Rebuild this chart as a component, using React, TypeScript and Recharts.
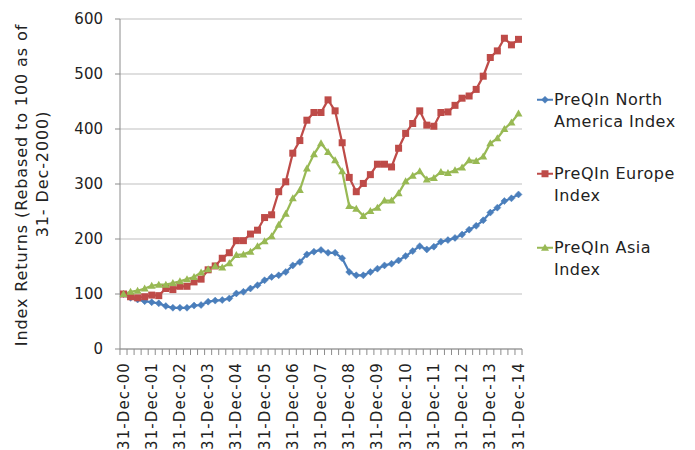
import React from 'react';
import { LineChart, Line, XAxis, YAxis, CartesianGrid } from 'recharts';

const categories = [
  '31-Dec-00', '31-Mar-01', '30-Jun-01', '30-Sep-01',
  '31-Dec-01', '31-Mar-02', '30-Jun-02', '30-Sep-02',
  '31-Dec-02', '31-Mar-03', '30-Jun-03', '30-Sep-03',
  '31-Dec-03', '31-Mar-04', '30-Jun-04', '30-Sep-04',
  '31-Dec-04', '31-Mar-05', '30-Jun-05', '30-Sep-05',
  '31-Dec-05', '31-Mar-06', '30-Jun-06', '30-Sep-06',
  '31-Dec-06', '31-Mar-07', '30-Jun-07', '30-Sep-07',
  '31-Dec-07', '31-Mar-08', '30-Jun-08', '30-Sep-08',
  '31-Dec-08', '31-Mar-09', '30-Jun-09', '30-Sep-09',
  '31-Dec-09', '31-Mar-10', '30-Jun-10', '30-Sep-10',
  '31-Dec-10', '31-Mar-11', '30-Jun-11', '30-Sep-11',
  '31-Dec-11', '31-Mar-12', '30-Jun-12', '30-Sep-12',
  '31-Dec-12', '31-Mar-13', '30-Jun-13', '30-Sep-13',
  '31-Dec-13', '31-Mar-14', '30-Jun-14', '30-Sep-14',
  '31-Dec-14',
];

const northAmerica = [
  100, 93, 90, 87, 85, 83, 78, 75, 75, 75,
  79, 80, 86, 88, 89, 92, 101, 104, 110, 116,
  125, 131, 134, 140, 152, 158, 172, 177, 180,
  175, 175, 165, 140, 134, 134, 140, 146, 152, 155,
  161, 169, 178, 187, 181, 186, 195, 198, 202, 208,
  217, 224, 234, 248, 257, 269, 274, 281,
];

const europe = [
  100, 95, 93, 95, 98, 97, 110, 108, 114, 114,
  122, 127, 144, 151, 165, 175, 197, 197, 209, 216,
  239, 244, 286, 304, 356, 379, 416, 430, 430,
  453, 433, 375, 312, 286, 301, 317, 336, 336, 331,
  365, 392, 410, 433, 407, 405, 430, 431, 443, 456,
  460, 472, 496, 530, 542, 565, 553, 563,
];

const asia = [
  100, 104, 106, 110, 115, 117, 117, 120, 123, 127,
  131, 139, 145, 151, 148, 156, 171, 172, 177, 187,
  196, 205, 226, 246, 274, 289, 328, 354, 374,
  358, 343, 323, 260, 255, 242, 251, 257, 270, 270,
  283, 305, 315, 323, 308, 311, 322, 320, 325, 330,
  343, 342, 350, 374, 383, 400, 412, 428,
];

const yTicks = [0, 100, 200, 300, 400, 500, 600];

const seriesKeys = ['na', 'eu', 'asia'];
const seriesNames = ['PreQIn North America Index', 'PreQIn Europe Index', 'PreQIn Asia Index'];

const yTitleLines = ['Index Returns (Rebased to 100 as of', '31- Dec-2000)'];

const data = categories.map((date, i) => ({
  date,
  na: northAmerica[i],
  eu: europe[i],
  asia: asia[i],
}));

const FONT = '"DejaVu Sans", Verdana, sans-serif';
const COLORS: Record<string, string> = { na: '#4A7EBB', eu: '#BE4B48', asia: '#98B954' };
const AXIS = '#8C8C8C';
const GRID = '#BFBFBF';
const TEXT = '#222222';
const STEP = 395 / 56;

function Marker({ kind, cx, cy, color }: { kind: string; cx: number; cy: number; color: string }) {
  if (kind === 'na') {
    return (
      <polygon
        points={`${cx},${cy - 3.5} ${cx + 3.5},${cy} ${cx},${cy + 3.5} ${cx - 3.5},${cy}`}
        fill={color}
        stroke={color}
        strokeWidth={0.5}
      />
    );
  }
  if (kind === 'eu') {
    return <rect x={cx - 3.5} y={cy - 3.5} width={7} height={7} fill={color} />;
  }
  return (
    <polygon
      points={`${cx},${cy - 4} ${cx + 4},${cy + 3} ${cx - 4},${cy + 3}`}
      fill={color}
    />
  );
}

const makeDot = (kind: string, color: string) => (p: any) => {
  if (p.cx == null || p.cy == null) return <g key={`${kind}-${p.index}`} />;
  return (
    <g key={`${kind}-${p.index}`}>
      <Marker kind={kind} cx={p.cx} cy={p.cy} color={color} />
    </g>
  );
};

function XTick(props: any) {
  const { x, y, payload } = props;
  const index = props.index ?? payload?.index ?? 0;
  const last = index === categories.length - 1;
  return (
    <g>
      <line x1={x - STEP / 2} y1={y} x2={x - STEP / 2} y2={y + 6} stroke={AXIS} strokeWidth={1} />
      {last && <line x1={x + STEP / 2} y1={y} x2={x + STEP / 2} y2={y + 6} stroke={AXIS} strokeWidth={1} />}
      {index % 4 === 0 && (
        <text
          x={x}
          y={y + 13}
          transform={`rotate(-90 ${x} ${y + 13})`}
          textAnchor="end"
          dominantBaseline="central"
          fontFamily={FONT}
          fontSize={15}
          letterSpacing={1.1}
          fill={TEXT}
        >
          {payload.value}
        </text>
      )}
    </g>
  );
}

function YTitle() {
  return (
    <g>
      <text
        x={21}
        y={185}
        transform="rotate(-90 21 185)"
        textAnchor="middle"
        dominantBaseline="central"
        fontFamily={FONT}
        fontSize={16}
        letterSpacing={0.9}
        fill={TEXT}
      >
        {yTitleLines[0]}
      </text>
      <text
        x={42}
        y={174}
        transform="rotate(-90 42 174)"
        textAnchor="middle"
        dominantBaseline="central"
        fontFamily={FONT}
        fontSize={16}
        letterSpacing={0.9}
        fill={TEXT}
      >
        {yTitleLines[1]}
      </text>
    </g>
  );
}

function ChartLegend() {
  return (
    <div
      style={{
        position: 'absolute',
        left: 536,
        top: 89,
        width: 159,
        fontFamily: FONT,
        fontSize: 16,
        color: TEXT,
      }}
    >
      {seriesKeys.map((key, i) => (
        <div key={key} style={{ display: 'flex', height: 74, alignItems: 'flex-start' }}>
          <svg width={18} height={21.5} style={{ flex: 'none' }}>
            <line x1={1} y1={10.75} x2={17} y2={10.75} stroke={COLORS[key]} strokeWidth={2} />
            <Marker kind={key} cx={9} cy={10.75} color={COLORS[key]} />
          </svg>
          <div style={{ width: 134, lineHeight: '21.5px', letterSpacing: 0.5 }}>{seriesNames[i]}</div>
        </div>
      ))}
    </div>
  );
}

export default function App() {
  return (
    <div style={{ position: 'absolute', left: 0, top: 0, width: 695, height: 450, background: '#fff' }}>
      <LineChart
        width={695}
        height={450}
        data={data}
        margin={{ top: 19, right: 173, bottom: 0, left: 0 }}
      >
        <CartesianGrid vertical={false} stroke={GRID} strokeWidth={1} />
        <XAxis
          dataKey="date"
          interval={0}
          tickLine={false}
          tickSize={0}
          tickMargin={0}
          height={101}
          padding={{ left: 3.5, right: 3.5 }}
          axisLine={{ stroke: AXIS }}
          tick={<XTick />}
        />
        <YAxis
          domain={[0, 600]}
          ticks={yTicks}
          width={120}
          tickSize={5}
          tickMargin={12}
          axisLine={{ stroke: AXIS }}
          tickLine={{ stroke: AXIS }}
          tick={{ fontFamily: FONT, fontSize: 15, fill: TEXT }}
          label={{ content: () => <YTitle /> }}
        />
        {seriesKeys.map((key, i) => (
          <Line
            key={key}
            type="linear"
            dataKey={key}
            name={seriesNames[i]}
            stroke={COLORS[key]}
            strokeWidth={2.25}
            dot={makeDot(key, COLORS[key])}
            activeDot={false}
            isAnimationActive={false}
          />
        ))}
      </LineChart>
      <ChartLegend />
    </div>
  );
}
